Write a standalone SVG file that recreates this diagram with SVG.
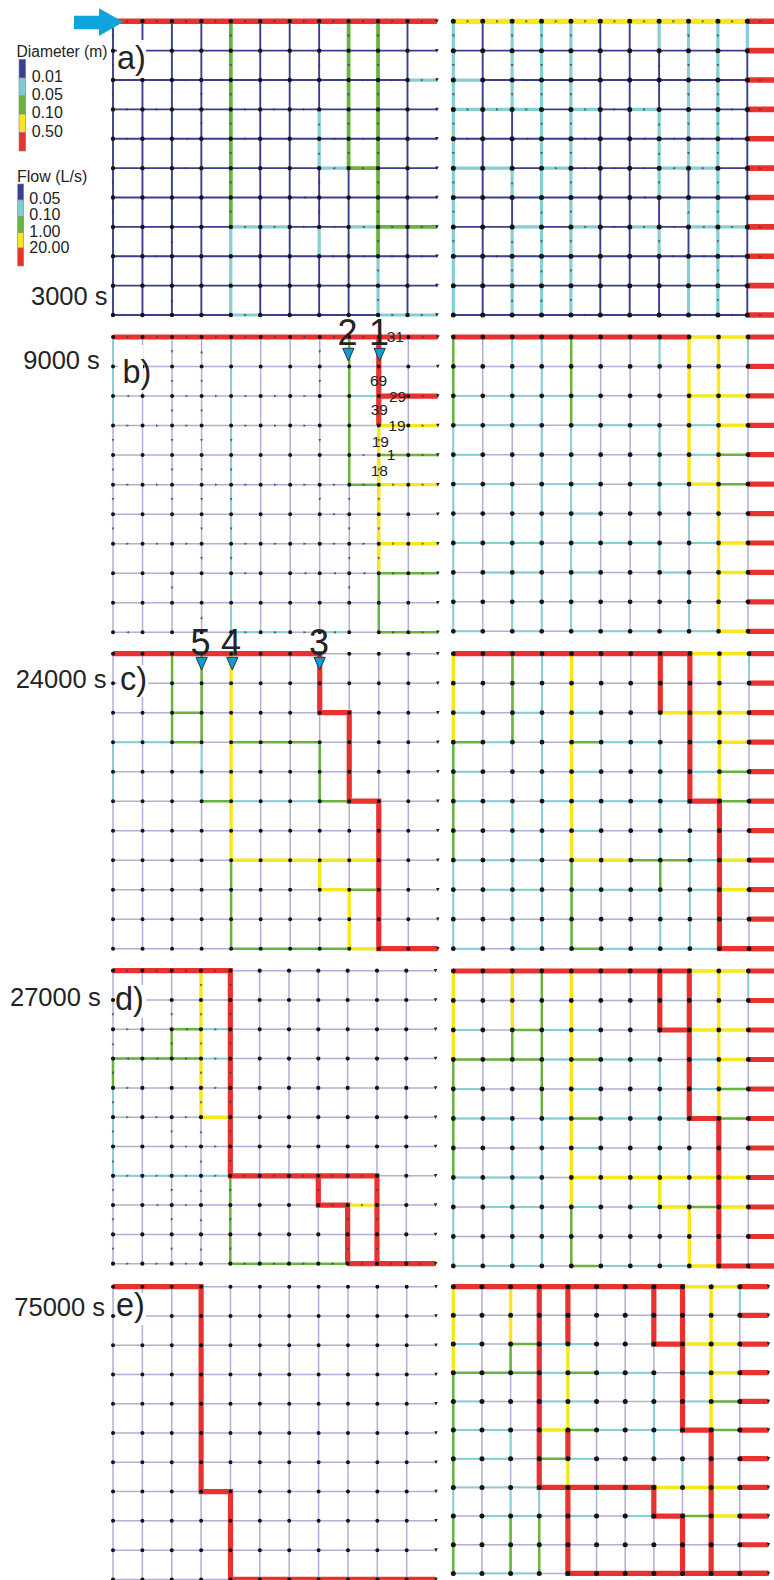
<svg xmlns="http://www.w3.org/2000/svg" width="774" height="1580" viewBox="0 0 774 1580">
<style>
text{font-family:"Liberation Sans",Arial,sans-serif;fill:#232323}
path{fill:none;vector-effect:non-scaling-stroke}
.n{stroke:#3b3f92;stroke-width:1.9}
.f{stroke:#b2b0d6;stroke-width:1.5}
.t{stroke:#86cfd6;stroke-width:1.9}
.g{stroke:#69b33f;stroke-width:2.5}
.y{stroke:#f8e71c;stroke-width:3.4}
.r{stroke:#e9322f;stroke-width:5.2}
.A .t{stroke-width:3.2}
.A .g{stroke-width:3.8}
.A .y{stroke-width:5.2}
.A .r{stroke-width:5.6}
.dt{stroke:#141414;stroke-linecap:round}
.aR,.aL,.aD,.aU,.aO{stroke:none}
.aR{marker:url(#mR)}.aL{marker:url(#mL)}.aD{marker:url(#mD)}.aU{marker:url(#mU)}.aO{marker:url(#mO)}
.ah{fill:#3a3a3a;fill-opacity:.75}
.ao{fill:#222}
.pin{fill:#0b9bd6;stroke:#333;stroke-width:1}
.time{font-size:25.5px}
.let{font-size:32.5px}
.big{font-size:36px;text-anchor:middle}
.leg{font-size:16px}
.val{font-size:15.5px}
.bar{stroke:#888;stroke-width:.6}
</style>
<defs>
<marker id="mR" viewBox="0 0 10 10" refX="5" refY="5" markerUnits="userSpaceOnUse" markerWidth=".12" markerHeight=".12" orient="0"><path class="ah" d="M1 1 9 5 1 9Z"/></marker>
<marker id="mL" viewBox="0 0 10 10" refX="5" refY="5" markerUnits="userSpaceOnUse" markerWidth=".12" markerHeight=".12" orient="180"><path class="ah" d="M1 1 9 5 1 9Z"/></marker>
<marker id="mD" viewBox="0 0 10 10" refX="5" refY="5" markerUnits="userSpaceOnUse" markerWidth=".12" markerHeight=".12" orient="90"><path class="ah" d="M1 1 9 5 1 9Z"/></marker>
<marker id="mU" viewBox="0 0 10 10" refX="5" refY="5" markerUnits="userSpaceOnUse" markerWidth=".12" markerHeight=".12" orient="-90"><path class="ah" d="M1 1 9 5 1 9Z"/></marker>
<marker id="mO" viewBox="0 0 10 10" refX="5" refY="5" markerUnits="userSpaceOnUse" markerWidth=".15" markerHeight=".15" orient="90"><path class="ao" d="M1 1 9 5 1 9Z"/></marker>
<path id="grid" d="M0 0H11M0 1H11M0 2H11M0 3H11M0 4H11M0 5H11M0 6H11M0 7H11M0 8H11M0 9H11M0 10H11M0 0V10M1 0V10M2 0V10M3 0V10M4 0V10M5 0V10M6 0V10M7 0V10M8 0V10M9 0V10M10 0V10"/>
<path id="out" d="M10 0H11M10 1H11M10 2H11M10 3H11M10 4H11M10 5H11M10 6H11M10 7H11M10 8H11M10 9H11M10 10H11"/>
<path id="outa" class="aO" d="M11 0 11 1 11 2 11 3 11 4 11 5 11 6 11 7 11 8 11 9 11 10"/>
<path id="dr" class="dt" d="M0 0h.001M1 0h.001M2 0h.001M3 0h.001M4 0h.001M5 0h.001M6 0h.001M7 0h.001M8 0h.001M9 0h.001M10 0h.001"/>
<g id="dots"><use href="#dr"/><use href="#dr" y="1"/><use href="#dr" y="2"/><use href="#dr" y="3"/><use href="#dr" y="4"/><use href="#dr" y="5"/><use href="#dr" y="6"/><use href="#dr" y="7"/><use href="#dr" y="8"/><use href="#dr" y="9"/><use href="#dr" y="10"/></g>
</defs>
<rect width="774" height="1580" fill="#fff"/>

<g id="panel-a-left" class="A" transform="translate(113 21.3) scale(29.45 29.37)">
<use href="#grid" class="n"/>
<path class="t" d="M7 3V5H8M10 2H11M4 7H6M8 7H9M7 7V8M4 7V10H5M9 8V10H11"/>
<path class="g" d="M4 0V7M8 0V5H9M9 0V8M9 7H11"/>
<path class="r" d="M0 0H11"/>
<use href="#dots" stroke-width="4.4"/>
<use href="#outa"/>
<path class="aR" d="M.5 0 1.5 0 2.5 0 3.5 0 4.5 0 5.5 0 6.5 0 7.5 0 8.5 0 9.5 0 10.5 0M2.5 2 8.5 2 9.5 2 10.5 2M.5 3 1.5 3 4.5 3 5.5 3 6.5 3M.5 4 4.5 4 8.5 4M2.5 5 8.5 5M4.5 7 5.5 7 6.5 7 9.5 7 10.5 7M1.5 8 7.5 8 9.5 8 10.5 8M4.5 10 9.5 10 10.5 10"/>
<path class="aL" d="M2.5 4 7.5 4M7.5 5M6.5 6M7.5 7 8.5 7M8.5 8"/>
<path class="aD" d="M4 .5 4 1.5 4 2.5 4 3.5 4 4.5 4 5.5 4 6.5M8 .5 8 1.5 8 2.5 8 3.5 8 4.5M9 .5 9 1.5 9 2.5 9 3.5 9 4.5 9 5.5 9 6.5 9 7.5 9 8.5 9 9.5M0 .5 0 1.5 0 2.5 0 5.5 0 6.5M3 2.5 3 3.5M7 5.5 7 6.5"/>
<path class="aU" d="M7 1.5 7 3.5 7 4.5M2 7.5 2 9.5"/>
</g>

<g id="panel-a-right" class="A" transform="translate(453.3 21.3) scale(29.4 29.37)">
<use href="#grid" class="n"/>
<path class="t" d="M0 0V10M2 0V3M2 5V6M2 7V10M3 0V10M4 0V10M7 0V1M7 3V6M7 7V8M8 0V5M8 6V7M8 8V10M9 0V10M10 0V1M0 2H1M0 3H3M4 3H5M6 3H7M0 5H2M3 5H4M7 5H9M2 7H3M4 7H5M6 7H7M8 7H10"/>
<path class="y" d="M0 0H10"/>
<use href="#out" class="r" stroke-width="6"/>
<use href="#dots" stroke-width="5"/>
<path class="aR" d="M.5 0 1.5 0 2.5 0 3.5 0 4.5 0 5.5 0 6.5 0 7.5 0 8.5 0 9.5 0M2.5 2 8.5 2 9.5 2M.5 3 1.5 3 2.5 3 4.5 3 5.5 3 6.5 3 9.5 3M.5 4 4.5 4 8.5 4 9.5 4M3.5 5 4.5 5 5.5 5 6.5 5 8.5 5M4.5 7 5.5 7 6.5 7 9.5 7M1.5 8 7.5 8 9.5 8M4.5 10 9.5 10M10.45 0 10.45 2 10.45 3 10.45 5 10.45 7 10.45 8 10.45 10"/>
<path class="aL" d="M2.5 4 6.5 4 7.5 4M7.5 5M6.5 6M7.5 7 8.5 7M8.5 8M8.5 10"/>
<path class="aD" d="M0 .5 0 1.5 0 2.5 0 3.5 0 4.5 0 5.5 0 6.5 0 7.5M2 .5 2 1.5 2 2.5 2 8.5M3 .5 3 1.5 3 2.5 3 3.5 3 4.5 3 7.5M4 .5 4 1.5 4 2.5 4 3.5 4 4.5 4 5.5 4 6.5 4 7.5 4 8.5 4 9.5M7 5.5 7 7.5M8 .5 8 1.5 8 2.5 8 3.5 8 4.5M9 .5 9 1.5 9 2.5 9 3.5 9 4.5 9 5.5 9 6.5 9 7.5 9 8.5 9 9.5"/>
<path class="aU" d="M2 5.5 2 7.5 2 9.5M3 6.5 3 8.5 3 9.5M7 1.5 7 3.5 7 4.5M8 6.5"/>
</g>

<g id="panel-b-left" transform="translate(113 337) scale(29.53 29.53)">
<use href="#grid" class="f"/>
<path class="t" d="M0 0V3M4 0V10M8 2H9M4 10H6M7 10H8"/>
<path class="g" d="M8 0V5H9M9 8V10M9 4H11M9 8H11M9 10H11"/>
<path class="y" d="M9 3V8M9 3H11M9 5H11M9 7H11"/>
<path class="r" d="M0 0H11M9 0V3M9 2H11"/>
<use href="#dots" stroke-width="4"/>
<use href="#outa"/>
<path class="aR" d="M.5 0 1.5 0 2.5 0 3.5 0 4.5 0 5.5 0 6.5 0 7.5 0 8.5 0 9.5 0 10.5 0M2.5 2 3.5 2 4.5 2 5.5 2 6.5 2 9.5 2 10.5 2M.5 3 1.5 3 2.5 3 4.5 3 5.5 3 6.5 3 9.5 3 10.5 3M8.5 4 9.5 4 10.5 4M.5 5 1.5 5 3.5 5 4.5 5 5.5 5 6.5 5 7.5 5 8.5 5 9.5 5 10.5 5M7.5 6M.5 7 1.5 7 2.5 7 4.5 7 5.5 7 6.5 7 7.5 7 8.5 7 9.5 7 10.5 7M4.5 8 9.5 8 10.5 8M4.5 10 5.5 10 6.5 10 9.5 10 10.5 10"/>
<path class="aL" d="M.5 2 6.5 8 7.5 8 8.5 8M.5 10 7.5 10"/>
<path class="aD" d="M0 3.5 0 4.5 0 5.5 0 6.5M2 .5 2 1.5 2 2.5 2 3.5 2 4.5 2 5.5 2 8.5M3 1.5 3 2.5 3 3.5 3 4.5 3 5.5 3 6.5 3 7.5M4 3.5 4 4.5 4 5.5 4 6.5 4 7.5M7 .5 7 1.5 7 3.5 7 5.5M8 5.5 8 6.5 8 7.5 8 8.5M9 3.5 9 4.5 9 5.5 9 6.5 9 7.5"/>
<path class="aU" d="M3 .5 3 9.5"/>
</g>

<g id="panel-b-right" transform="translate(453.3 337) scale(29.47 29.43)">
<use href="#grid" class="f"/>
<path class="t" d="M0 3V10M2 0V3M2 5V10M3 0V10M4 3V10M7 0V1M7 3V6M7 7V8M8 6V7M8 8V10M10 0V1M0 2H4M4 2H5M0 3H3M4 3H7M8 3H9M0 4H1M8 4H9M0 5H2M3 5H5M6 5H8M4 6H5M0 7H3M4 7H7M8 7H9M1 8H3M4 8H5M7 8H8M0 10H1M2 10H3M4 10H9"/>
<path class="g" d="M0 0V3M4 0V3M9 4H10M9 5H10"/>
<path class="y" d="M8 0V5M9 0V10M8 0H10M8 2H10M9 3H10M8 5H9M9 7H10M9 8H10M9 10H10"/>
<path class="r" d="M0 0H8"/>
<use href="#out" class="r"/>
<use href="#dots" stroke-width="4.8"/>
</g>

<g id="panel-c-left" transform="translate(113 653.7) scale(29.53 29.5)">
<use href="#grid" class="f"/>
<path class="t" d="M0 3H2M0 3V5M3 3V5M4 5H7"/>
<path class="g" d="M2 0V3H3V0M2 2H3M3 5H4M4 7V10H8M4 3H7V5H8M8 8H9"/>
<path class="y" d="M4 0V7H9M7 7V8H8V10H9"/>
<path class="r" d="M0 0H7V2H8V5H9V10H11"/>
<use href="#dots" stroke-width="4"/>
<use href="#outa"/>
</g>

<g id="panel-c-right" transform="translate(453.3 653.7) scale(29.57 29.5)">
<use href="#grid" class="f"/>
<path class="t" d="M0 7V10M2 5V10M3 0V10M5 10H9M7 3V7M7 8V10M8 6V10M10 0V1M0 2H1M2 2H3M4 2H5M1 3H2M5 3H7M8 3H9M0 4H1M4 4H5M8 4H9M0 5H2M3 5H8M4 6H5M0 7H3M8 7H9M1 8H3M4 8H7M8 8H9M0 10H1M2 10H3"/>
<path class="g" d="M0 3V7M2 0V3M0 3H1M4 3H5M4 7V10H5M6 7H8M7 7V8M9 4H10M9 5H10"/>
<path class="y" d="M0 0V3M4 0V7H6M7 2H10M9 0V5M8 0H10M9 3H10M9 7H10M9 8H10"/>
<path class="r" d="M0 0H8V5H9V10H11M7 0V2"/>
<use href="#out" class="r"/>
<use href="#dots" stroke-width="4.8"/>
</g>

<g id="panel-d-left" transform="translate(113 970.7) scale(29.33 29.3)">
<use href="#grid" class="f"/>
<path class="t" d="M3 2H4M3 3H4M0 4V7H4"/>
<path class="g" d="M2 2H3M2 2V3M0 3H3M0 3V4M4 7V10H8"/>
<path class="y" d="M3 0V5H4M8 8H9"/>
<path class="r" d="M0 0H4V7H9V10M7 7V8H8V10M8 10H11"/>
<use href="#dots" stroke-width="4.2"/>
<use href="#outa"/>
<path class="aR" d="M.5 0 1.5 0 2.5 0 3.5 0M.5 2 3.5 2M2.5 3 3.5 3M.5 4 3.5 4M.5 5 1.5 5 2.5 5M2.5 6 3.5 6M.5 7 1.5 7 2.5 7 3.5 7 4.5 7 5.5 7 6.5 7 7.5 7 8.5 7M2.5 8 7.5 8 8.5 8M.5 10 1.5 10 2.5 10 4.5 10 5.5 10 6.5 10 7.5 10 8.5 10 9.5 10 10.5 10"/>
<path class="aL" d="M2.5 2M.5 3 1.5 3M1.5 8"/>
<path class="aD" d="M0 1.5 0 3.5 0 4.5 0 5.5 0 7.5 0 8.5 0 9.5M2 1.5 2 2.5 2 5.5 2 7.5 2 8.5 2 9.5M3 .5 3 1.5 3 2.5 3 3.5 3 4.5M4 .5 4 1.5 4 2.5 4 3.5 4 4.5 4 5.5 4 6.5 4 7.5 4 8.5 4 9.5M7 7.5M8 8.5 8 9.5M9 7.5 9 8.5 9 9.5"/>
<path class="aU" d="M0 2.5 0 6.5M3 5.5 3 6.5 3 7.5 3 8.5 3 9.5"/>
</g>

<g id="panel-d-right" transform="translate(453.3 971) scale(29.5 29.5)">
<use href="#grid" class="f"/>
<path class="t" d="M0 7V10M2 5V10M3 5V10M7 3V7M8 6V7M10 0V1M0 2H1M3 2H5M3 3H4M5 3H7M8 3H9M0 4H1M4 4H5M8 4H9M0 5H2M3 5H4M5 5H8M4 6H5M0 7H3M1 8H3M4 8H5M6 8H7M0 10H3M5 10H8"/>
<path class="g" d="M0 3V7M2 2V3M3 0V5M0 3H3M2 2H3M4 3H5M4 5H5M4 8V10H5M8 8H9M9 4H10M9 5H10"/>
<path class="y" d="M0 0V3M2 0V2M4 0V8M4 7H10M7 7V8H8V10H9M8 0H10M9 0V5M8 2H10M9 3H10M9 8H10"/>
<path class="r" d="M0 0H8V5H9V10H11M7 0V2H8"/>
<use href="#out" class="r"/>
<use href="#dots" stroke-width="4.8"/>
</g>

<g id="panel-e-left" transform="translate(113 1286.7) scale(29.37 29.27)">
<use href="#grid" class="f"/>
<path class="r" d="M0 0H3V7H4V10H11"/>
<use href="#dots" stroke-width="4"/>
<use href="#outa"/>
</g>

<g id="panel-e-right" transform="translate(453.3 1286.7) scale(28.65 28.67)">
<use href="#grid" class="f"/>
<path class="t" d="M0 7V8M2 5V6M2 7V8M3 7V8M7 3V6M8 6V7M10 0V1M0 2H1M3 2H5M3 3H4M5 3H7M8 3H9M0 4H1M3 4H5M8 4H9M0 5H2M5 5H8M0 6H2M4 6H5M0 7H3M1 8H3M4 8H5M6 8H7M0 10H3"/>
<path class="g" d="M0 3V7M0 8V10M2 2V3M2 8V10M3 8V10M0 3H3M2 2H3M4 3H5M4 5H5M3 6H4M8 8H9M9 4H10M9 5H10"/>
<path class="y" d="M0 0V3M2 0V2M4 2V5M4 6V7M3 5H4M7 7H10M8 0H10M9 0V5M8 2H10M9 3H10M9 8H10"/>
<path class="r" d="M0 0H8V5H9V10M7 0V2H8M3 0V7H7V8H8V10M4 0V2M4 5V6M4 7V10H11"/>
<use href="#out" class="r"/>
<use href="#dots" stroke-width="5"/>
<use href="#outa"/>
</g>

<g id="label-masks" fill="#fff">
<rect x="117" y="40" width="29" height="38"/>
<rect x="118" y="345" width="25" height="47"/>
<rect x="117" y="665" width="31" height="32"/>
<rect x="115" y="985" width="31" height="33"/>
<rect x="116" y="1293" width="30" height="32"/>
</g>

<g id="inlet-arrow"><path d="M74 15.7H99V8.3L123.3 22 99 36V29.3H74Z" style="fill:#0ea5dc"/></g>

<g id="legend-diameter">
<text class="leg" x="16.5" y="57" style="font-size:15.6px">Diameter (m)</text>
<rect class="bar" x="19" y="59.3" width="6.7" height="18.7" fill="#3b3f92"/>
<rect class="bar" x="19" y="78" width="6.7" height="18" fill="#7fccd4"/>
<rect class="bar" x="19" y="96" width="6.7" height="18" fill="#69b33f"/>
<rect class="bar" x="19" y="114" width="6.7" height="18.5" fill="#f8e71c"/>
<rect class="bar" x="19" y="132.5" width="6.7" height="18.5" fill="#e9322f"/>
<text class="leg" x="31.7" y="82.3">0.01</text>
<text class="leg" x="31.7" y="100.3">0.05</text>
<text class="leg" x="31.7" y="118.3">0.10</text>
<text class="leg" x="31.7" y="136.7">0.50</text>
</g>
<g id="legend-flow">
<text class="leg" x="17" y="182">Flow (L/s)</text>
<rect class="bar" x="17.7" y="184" width="6" height="16" fill="#3b3f92"/>
<rect class="bar" x="17.7" y="200" width="6" height="16.5" fill="#7fccd4"/>
<rect class="bar" x="17.7" y="216.5" width="6" height="16.2" fill="#69b33f"/>
<rect class="bar" x="17.7" y="232.7" width="6" height="15.3" fill="#f8e71c"/>
<rect class="bar" x="17.7" y="248" width="6" height="18" fill="#e9322f"/>
<text class="leg" x="29.3" y="204">0.05</text>
<text class="leg" x="29.3" y="220">0.10</text>
<text class="leg" x="29.3" y="236.7">1.00</text>
<text class="leg" x="29.3" y="252.7">20.00</text>
</g>

<g id="time-labels">
<text class="time" x="31" y="305">3000 s</text>
<text class="time" x="23.3" y="369">9000 s</text>
<text class="time" x="15.7" y="687.7">24000 s</text>
<text class="time" x="10" y="1005.7">27000 s</text>
<text class="time" x="14.3" y="1315.7">75000 s</text>
<text class="let" x="117" y="69.3">a)</text>
<text class="let" x="122.5" y="383">b)</text>
<text class="let" x="120" y="690">c)</text>
<text class="let" x="115" y="1010">d)</text>
<text class="let" x="116" y="1316">e)</text>
</g>

<g id="probe-1"><text class="big" x="379" y="345">1</text><path class="pin" d="M374 348.3H385.3L379.6 361Z"/></g>
<g id="probe-2"><text class="big" x="347.5" y="345">2</text><path class="pin" d="M342.7 348.3H354L348.3 361Z"/></g>
<g id="probe-3"><text class="big" x="319" y="655">3</text><path class="pin" d="M314 657.3H325.3L319.6 670Z"/></g>
<g id="probe-4"><text class="big" x="231" y="655">4</text><path class="pin" d="M226.7 657.3H238L232.3 670Z"/></g>
<g id="probe-5"><text class="big" x="200.5" y="655">5</text><path class="pin" d="M196 657.3H207.3L201.6 670Z"/></g>

<g id="flow-values">
<text class="val" x="386.7" y="341.7">31</text>
<text class="val" x="370" y="386">69</text>
<text class="val" x="389" y="401.7">29</text>
<text class="val" x="370.7" y="415">39</text>
<text class="val" x="388.3" y="430.7">19</text>
<text class="val" x="371.7" y="447">19</text>
<text class="val" x="386.7" y="460">1</text>
<text class="val" x="370.7" y="475.7">18</text>
</g>
</svg>
